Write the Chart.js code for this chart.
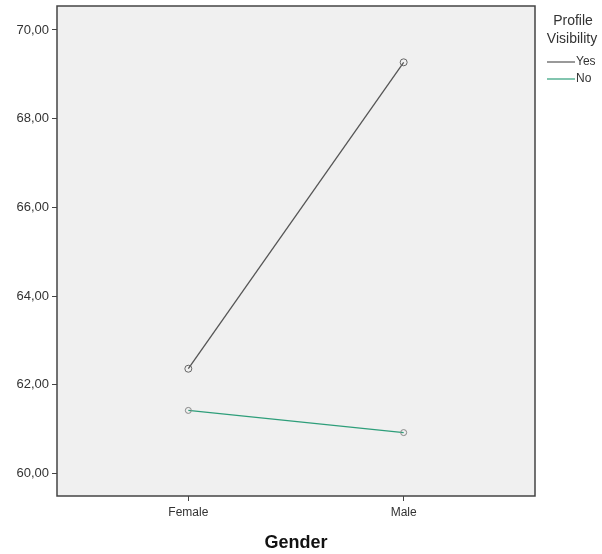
<!DOCTYPE html>
<html>
<head>
<meta charset="utf-8">
<script src="https://cdn.jsdelivr.net/npm/chart.js@4/dist/chart.umd.min.js"></script>
<style>
html,body{margin:0;padding:0;background:#fff;}
#c{display:block;}
</style>
</head>
<body>
<canvas id="c" width="602" height="554"></canvas>
<script>
const categories = ["Female", "Male"];
const seriesNames = ["Yes", "No"];
const yesValues = [62.36, 69.27];
const noValues = [61.42, 60.92];
const yTicks = [60, 62, 64, 66, 68, 70];
const legendTitle = ["Profile", "Visibility"];
const xTitle = "Gender";

const colors = ["#555555", "#2e9e7a"];
const FONT = "'Liberation Sans', Arial, sans-serif";

const framePlugin = {
  id: 'frame',
  beforeDraw(chart) {
    const {ctx, chartArea: a} = chart;
    ctx.save();
    ctx.fillStyle = '#f0f0f0';
    ctx.fillRect(a.left, a.top, a.right - a.left, a.bottom - a.top);
    ctx.restore();
  },
  afterDraw(chart) {
    const {ctx, chartArea: a} = chart;
    ctx.save();
    ctx.strokeStyle = '#444';
    ctx.lineWidth = 1.5;
    ctx.strokeRect(a.left, a.top, a.right - a.left, a.bottom - a.top);
    // legend
    ctx.fillStyle = '#333';
    ctx.font = "14px " + FONT;
    ctx.textAlign = 'center';
    ctx.textBaseline = 'middle';
    ctx.fillText(legendTitle[0], 573, 21);
    ctx.fillText(legendTitle[1], 572, 39);
    ctx.font = "12px " + FONT;
    ctx.textAlign = 'left';
    seriesNames.forEach((n, i) => {
      const y = 62 + i * 17;
      ctx.strokeStyle = colors[i];
      ctx.lineWidth = 1.2;
      ctx.beginPath();
      ctx.moveTo(547, y);
      ctx.lineTo(575, y);
      ctx.stroke();
      ctx.fillText(n, 576, y);
    });
    ctx.restore();
  }
};

new Chart(document.getElementById('c'), {
  type: 'line',
  data: {
    datasets: [
      {
        label: seriesNames[0],
        data: categories.map((c, i) => ({x: i, y: yesValues[i]})),
        borderColor: colors[0],
        borderWidth: 1.3,
        pointRadius: 3.5,
        pointBorderWidth: 1,
        pointBackgroundColor: 'rgba(0,0,0,0)',
        pointBorderColor: '#666'
      },
      {
        label: seriesNames[1],
        data: categories.map((c, i) => ({x: i, y: noValues[i]})),
        borderColor: colors[1],
        borderWidth: 1.3,
        pointRadius: 3,
        pointBorderWidth: 1,
        pointBackgroundColor: 'rgba(0,0,0,0)',
        pointBorderColor: '#888'
      }
    ]
  },
  options: {
    responsive: false,
    animation: false,
    layout: {padding: {left: 0, right: 67, top: 6, bottom: 0}},
    plugins: {legend: {display: false}, tooltip: {enabled: false}},
    scales: {
      x: {
        type: 'linear',
        min: -0.61,
        max: 1.61,
        afterBuildTicks(s) { s.ticks = categories.map((c, i) => ({value: i})); },
        afterFit(s) { s.height = 58; s.paddingLeft = 0; s.paddingRight = 0; },
        ticks: {
          callback: (v) => categories[v] ?? '',
          color: '#333',
          font: {family: FONT, size: 12},
          padding: 4,
          maxRotation: 0
        },
        grid: {drawOnChartArea: false, drawTicks: true, tickLength: 5, color: '#444'},
        border: {display: false},
        title: {
          display: true,
          text: xTitle,
          color: '#111',
          font: {family: FONT, size: 18, weight: 'bold'},
          padding: {top: 4, bottom: 0}
        }
      },
      y: {
        min: 59.49,
        max: 70.54,
        afterBuildTicks(s) { s.ticks = yTicks.map(v => ({value: v})); },
        afterFit(s) { s.width = 57; s.paddingTop = 0; s.paddingBottom = 0; },
        ticks: {
          callback: (v) => v.toFixed(2).replace('.', ','),
          color: '#333',
          font: {family: FONT, size: 13},
          padding: 3
        },
        grid: {drawOnChartArea: false, drawTicks: true, tickLength: 5, color: '#444'},
        border: {display: false}
      }
    }
  },
  plugins: [framePlugin]
});
</script>
</body>
</html>
